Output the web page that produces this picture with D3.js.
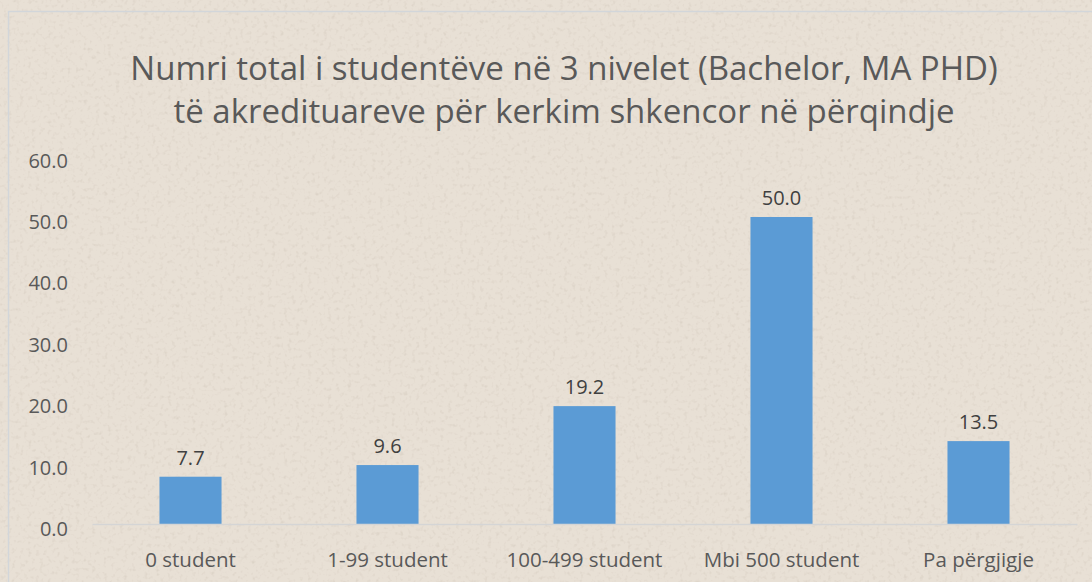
<!DOCTYPE html>
<html>
<head>
<meta charset="utf-8">
<script src="https://cdn.jsdelivr.net/npm/d3@7"></script>
<style>
html,body{margin:0;padding:0;background:#e4dcd0;}
svg{display:block;}
</style>
</head>
<body>
<svg id="chart" width="1092" height="582"></svg>
<script>
const categories = ["0 student", "1-99 student", "100-499 student", "Mbi 500 student", "Pa përgjigje"];
const values = [7.7, 9.6, 19.2, 50.0, 13.5];
const yTicks = [0, 10, 20, 30, 40, 50, 60];
const titleLines = ["Numri total i studentëve në 3 nivelet (Bachelor, MA PHD)", "të akredituareve për kerkim shkencor në përqindje"];

const W = 1092, H = 582;
const svg = d3.select("#chart");
const font = "'Open Sans', 'DejaVu Sans', sans-serif";
const textColor = "#595959";

// background with subtle parchment texture
const defs = svg.append("defs");
const f = defs.append("filter").attr("id", "paper").attr("x", 0).attr("y", 0).attr("width", "100%").attr("height", "100%");
f.append("feTurbulence").attr("type", "fractalNoise").attr("baseFrequency", 0.25).attr("numOctaves", 2).attr("seed", 7).attr("result", "noise");
f.append("feColorMatrix").attr("in", "noise").attr("type", "matrix")
  .attr("values", "0 0 0 0 0.55  0 0 0 0 0.50  0 0 0 0 0.44  0 0 0 -2.2 1.05").attr("result", "spots");
f.append("feComposite").attr("in", "spots").attr("in2", "SourceGraphic").attr("operator", "in").attr("result", "sp");
f.append("feComponentTransfer").attr("in", "sp").attr("result", "sp2")
  .append("feFuncA").attr("type", "linear").attr("slope", 0.28);
f.append("feBlend").attr("in", "sp2").attr("in2", "SourceGraphic").attr("mode", "multiply");

svg.append("rect").attr("width", W).attr("height", H).attr("fill", "#e8e0d5").attr("filter", "url(#paper)");
svg.append("rect").attr("x", 8.5).attr("y", 11.5).attr("width", W + 20).attr("height", H + 20)
  .attr("fill", "none").attr("stroke", "#d2d6da").attr("stroke-width", 1.5);

const x = d3.scaleBand().domain(categories).range([92, 1077]).paddingInner(0.685).paddingOuter(0.3425);
const y = d3.scaleLinear().domain([0, 60]).range([524, 155.6]);

// title
const title = svg.append("text").attr("text-anchor", "middle").attr("fill", textColor)
  .style("font-family", font).style("font-size", "33px");
title.selectAll("tspan").data(titleLines).join("tspan")
  .attr("x", 564).attr("y", (d, i) => 80 + i * 43).text(d => d);

// y axis labels
const yAxis = d3.axisLeft(y).tickValues(yTicks).tickFormat(d3.format(".1f")).tickSize(0).tickPadding(0);
const ya = svg.append("g").attr("transform", "translate(68,5)").call(yAxis);
ya.select(".domain").remove();
ya.selectAll("text").attr("fill", textColor).style("font-family", font).style("font-size", "20px");

// bars
svg.append("g").selectAll("rect").data(values).join("rect")
  .attr("x", (d, i) => x(categories[i]))
  .attr("width", x.bandwidth())
  .attr("y", d => y(d))
  .attr("height", d => y(0) - y(d))
  .attr("fill", "#5b9bd5");

// baseline axis
const xAxis = d3.axisBottom(x).tickSize(0).tickPadding(28);
const xa = svg.append("g").attr("transform", `translate(0,${y(0)})`).call(xAxis);
xa.select(".domain").attr("stroke", "#d5d5d5").attr("stroke-width", 1.5);
xa.selectAll("text").attr("fill", textColor).style("font-family", font).style("font-size", "20.5px");

// value labels
svg.append("g").selectAll("text").data(values).join("text")
  .attr("x", (d, i) => x(categories[i]) + x.bandwidth() / 2)
  .attr("y", d => y(d) - 12)
  .attr("text-anchor", "middle").attr("fill", "#404040")
  .style("font-family", font).style("font-size", "20px")
  .text(d => d3.format(".1f")(d));
</script>
</body>
</html>
